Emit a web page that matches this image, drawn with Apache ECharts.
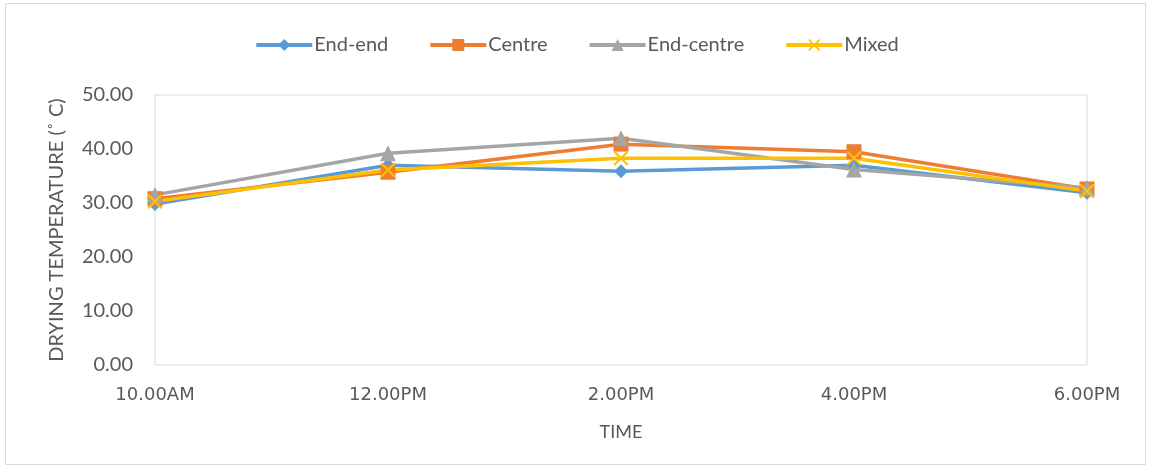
<!DOCTYPE html>
<html>
<head>
<meta charset="utf-8">
<script src="https://cdn.jsdelivr.net/npm/echarts@6/dist/echarts.min.js"></script>
<style>
  html, body { margin: 0; padding: 0; background: #fff; }
  #chart { width: 1153px; height: 472px; }
</style>
</head>
<body>
<div id="chart"></div>
<script>
// Drying temperature readings through the day for four arrangements
const times = ['10.00AM', '12.00PM', '2.00PM', '4.00PM', '6.00PM'];
const endEnd = [29.8, 37.0, 35.9, 37.0, 31.9];
const centre = [30.8, 35.7, 40.9, 39.5, 32.6];
const endCentre = [31.5, 39.2, 42.0, 36.2, 32.8];
const mixed = [30.3, 36.1, 38.3, 38.3, 32.2];
const yTicks = [0, 10, 20, 30, 40, 50];

const FONT = 'Lato, "Open Sans", sans-serif';
const TEXT = '#595959';
const crossPath = 'path://M1,0 L5,4 L9,0 L10,1 L6,5 L10,9 L9,10 L5,6 L1,10 L0,9 L4,5 L0,1 Z';

function makeSeries(name, data, color, symbol, size) {
  return {
    name: name,
    type: 'line',
    data: data,
    symbol: symbol,
    symbolSize: size,
    lineStyle: { color: color, width: 3.5 },
    itemStyle: { color: color, borderColor: color, borderWidth: 0 },
    emphasis: { disabled: true },
    z: 2
  };
}

const chart = echarts.init(document.getElementById('chart'), null, { renderer: 'canvas' });
chart.setOption({
  animation: false,
  backgroundColor: '#fff',
  graphic: [{
    type: 'rect',
    shape: { x: 5.5, y: 3.5, width: 1140, height: 461 },
    style: { fill: 'none', stroke: '#d9d9d9', lineWidth: 1 },
    z: -1
  }],
  legend: {
    top: 30,
    left: 'center',
    itemGap: 40,
    itemWidth: 56,
    itemHeight: 15,
    lineStyle: { width: 4 },
    textStyle: { fontFamily: FONT, fontSize: 20, color: TEXT, padding: [0, 0, 0, -3] },
    data: ['End-end', 'Centre', 'End-centre', 'Mixed']
  },
  grid: {
    left: 155, right: 66, top: 95, bottom: 107,
    show: true, borderColor: '#d9d9d9', borderWidth: 1, backgroundColor: 'transparent'
  },
  xAxis: {
    type: 'category',
    data: times,
    boundaryGap: false,
    name: 'TIME',
    nameLocation: 'middle',
    nameGap: 58,
    nameTextStyle: { fontFamily: FONT, fontSize: 18, color: TEXT },
    axisLine: { show: false },
    axisTick: { show: false },
    axisLabel: { fontFamily: '"DejaVu Sans", sans-serif', fontSize: 18, color: TEXT, margin: 21 },
    splitLine: { show: false }
  },
  yAxis: {
    type: 'value',
    min: yTicks[0],
    max: yTicks[yTicks.length - 1],
    interval: 10,
    name: 'DRYING TEMPERATURE (˚ C)',
    nameLocation: 'middle',
    nameGap: 88,
    nameTextStyle: { fontFamily: FONT, fontSize: 20, color: TEXT },
    axisLine: { show: false },
    axisTick: { show: false },
    splitLine: { show: false },
    axisLabel: {
      fontFamily: FONT, fontSize: 20, color: TEXT, margin: 22,
      formatter: v => v.toFixed(2)
    }
  },
  series: [
    makeSeries('End-end', endEnd, '#5B9BD5', 'diamond', 14),
    makeSeries('Centre', centre, '#ED7D31', 'rect', 15),
    makeSeries('End-centre', endCentre, '#A5A5A5', 'triangle', 16),
    makeSeries('Mixed', mixed, '#FFC000', crossPath, 15)
  ]
});
</script>
</body>
</html>
